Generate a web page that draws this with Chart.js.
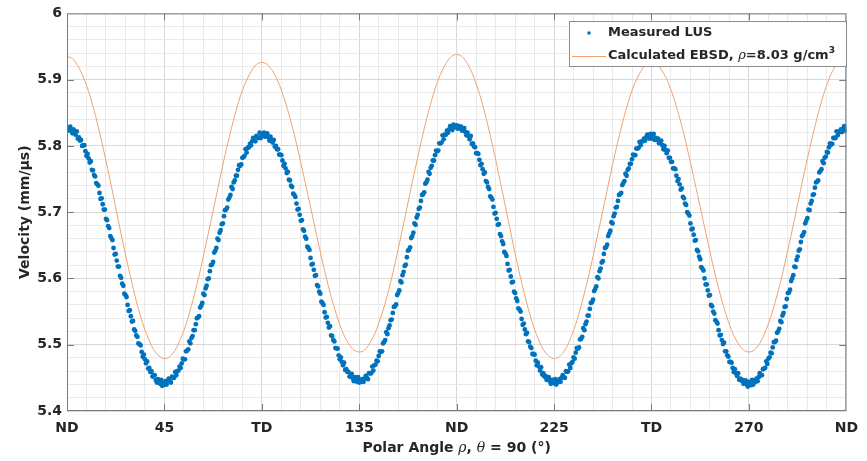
<!DOCTYPE html>
<html>
<head>
<meta charset="utf-8">
<script src="https://cdn.jsdelivr.net/npm/chart.js@4.4.1/dist/chart.umd.min.js"></script>
<style>
  html, body { margin: 0; padding: 0; background: #fff; }
  canvas { display: block; }
</style>
</head>
<body>
<canvas id="chart" width="867" height="461"></canvas>
<script>
// tick labels (every 45 deg on x, every 0.1 on y)
const xTickLabels = ['ND', '45', 'TD', '135', 'ND', '225', 'TD', '270', 'ND'];
const yTickLabels = ['5.4', '5.5', '5.6', '5.7', '5.8', '5.9', '6'];
const seriesLabels = ['Measured LUS', 'Calculated EBSD, ρ=8.03 g/cm³'];

// measured LUS velocity, one reading every 0.5 deg from 0 to 360
const measuredStep = 0.5;
const measuredVelocity = [
  5.828, 5.823, 5.827, 5.829, 5.823, 5.819, 5.825, 5.820, 5.817, 5.822,
  5.811, 5.813, 5.808, 5.809, 5.800, 5.801, 5.801, 5.792, 5.785, 5.788,
  5.781, 5.775, 5.777, 5.764, 5.763, 5.756, 5.754, 5.744, 5.742, 5.740,
  5.729, 5.720, 5.721, 5.712, 5.704, 5.704, 5.690, 5.688, 5.679, 5.676,
  5.664, 5.661, 5.658, 5.646, 5.636, 5.637, 5.627, 5.618, 5.618, 5.604,
  5.601, 5.592, 5.589, 5.577, 5.575, 5.572, 5.560, 5.551, 5.552, 5.543,
  5.535, 5.536, 5.523, 5.521, 5.514, 5.512, 5.502, 5.501, 5.499, 5.489,
  5.482, 5.485, 5.478, 5.472, 5.475, 5.464, 5.465, 5.459, 5.460, 5.452,
  5.454, 5.454, 5.447, 5.443, 5.448, 5.444, 5.441, 5.447, 5.438, 5.442,
  5.440,
  5.445, 5.440, 5.445, 5.449, 5.445, 5.443, 5.452, 5.450, 5.450, 5.459,
  5.454, 5.460, 5.461, 5.467, 5.465, 5.472, 5.479, 5.478, 5.478, 5.490,
  5.491, 5.493, 5.505, 5.502, 5.510, 5.513, 5.522, 5.522, 5.531, 5.540,
  5.541, 5.543, 5.556, 5.559, 5.563, 5.577, 5.575, 5.585, 5.589, 5.599,
  5.600, 5.611, 5.620, 5.621, 5.625, 5.639, 5.642, 5.646, 5.660, 5.658,
  5.669, 5.673, 5.682, 5.683, 5.694, 5.703, 5.704, 5.707, 5.719, 5.722,
  5.726, 5.738, 5.735, 5.745, 5.748, 5.755, 5.755, 5.764, 5.771, 5.770,
  5.772, 5.782, 5.783, 5.785, 5.795, 5.790, 5.797, 5.798, 5.803, 5.801,
  5.807, 5.812, 5.808, 5.807, 5.815, 5.813, 5.812, 5.820, 5.812, 5.816,
  5.817, 5.820, 5.814, 5.817, 5.819, 5.813, 5.808, 5.814, 5.809, 5.805,
  5.809, 5.799, 5.800, 5.795, 5.795, 5.787, 5.787, 5.786, 5.778, 5.770,
  5.773, 5.766, 5.759, 5.761, 5.749, 5.748, 5.740, 5.738, 5.728, 5.726,
  5.723, 5.713, 5.704, 5.705, 5.696, 5.687, 5.688, 5.674, 5.672, 5.663,
  5.660, 5.648, 5.646, 5.643, 5.631, 5.621, 5.622, 5.613, 5.604, 5.605,
  5.590, 5.588, 5.580, 5.577, 5.565, 5.563, 5.560, 5.549, 5.541, 5.542,
  5.533, 5.526, 5.528, 5.514, 5.513, 5.507, 5.505, 5.495, 5.495, 5.494,
  5.484, 5.478, 5.481, 5.474, 5.469, 5.473, 5.462, 5.463, 5.459, 5.459,
  5.452, 5.454, 5.456, 5.449, 5.445, 5.451, 5.447, 5.444, 5.451, 5.443,
  5.446, 5.444, 5.448, 5.444, 5.449, 5.453, 5.450, 5.448, 5.457, 5.457,
  5.457, 5.467, 5.461, 5.469, 5.470, 5.476, 5.475, 5.483, 5.490, 5.489,
  5.490, 5.502, 5.504, 5.507, 5.519, 5.516, 5.525, 5.529, 5.537, 5.538,
  5.548, 5.557, 5.558, 5.561, 5.575, 5.578, 5.582, 5.596, 5.594, 5.605,
  5.610, 5.619, 5.621, 5.632, 5.642, 5.643, 5.647, 5.661, 5.664, 5.669,
  5.683, 5.681, 5.692, 5.696, 5.705, 5.707, 5.717, 5.726, 5.727, 5.730,
  5.743, 5.745, 5.749, 5.761, 5.758, 5.767, 5.770, 5.778, 5.778, 5.786,
  5.793, 5.792, 5.793, 5.804, 5.804, 5.805, 5.816, 5.810, 5.817, 5.817,
  5.823, 5.820, 5.825, 5.830, 5.826, 5.824, 5.832, 5.830, 5.828, 5.831,
  5.826, 5.830, 5.827, 5.829, 5.823, 5.826, 5.827, 5.821, 5.816, 5.820,
  5.815, 5.810, 5.815, 5.803, 5.804, 5.799, 5.798, 5.789, 5.789, 5.788,
  5.779, 5.771, 5.773, 5.765, 5.758, 5.760, 5.747, 5.745, 5.738, 5.735,
  5.724, 5.722, 5.719, 5.708, 5.698, 5.699, 5.690, 5.681, 5.682, 5.667,
  5.664, 5.656, 5.652, 5.640, 5.638, 5.634, 5.622, 5.612, 5.613, 5.603,
  5.594, 5.595, 5.580, 5.578, 5.570, 5.566, 5.555, 5.553, 5.550, 5.539,
  5.530, 5.532, 5.523, 5.516, 5.518, 5.505, 5.504, 5.497, 5.495, 5.486,
  5.486, 5.485, 5.476, 5.469, 5.473, 5.467, 5.461, 5.466, 5.455, 5.457,
  5.452, 5.453, 5.447, 5.449, 5.451, 5.445, 5.441, 5.447, 5.444, 5.442,
  5.448, 5.440, 5.445, 5.444, 5.448, 5.444, 5.450, 5.454, 5.451, 5.450,
  5.460, 5.459, 5.460, 5.470, 5.465, 5.472, 5.474, 5.481, 5.479, 5.488,
  5.495, 5.494, 5.496, 5.508, 5.509, 5.512, 5.525, 5.522, 5.531, 5.535,
  5.544, 5.544, 5.554, 5.563, 5.564, 5.568, 5.581, 5.584, 5.588, 5.602,
  5.600, 5.611, 5.615, 5.624, 5.626, 5.637, 5.646, 5.647, 5.651, 5.664,
  5.668, 5.672, 5.685, 5.683, 5.694, 5.698, 5.707, 5.708, 5.717, 5.726,
  5.727, 5.729, 5.741, 5.744, 5.747, 5.758, 5.755, 5.764, 5.766, 5.773,
  5.773, 5.780, 5.787, 5.786, 5.786, 5.796, 5.796, 5.797, 5.806, 5.801,
  5.807, 5.807, 5.811, 5.808, 5.813, 5.817, 5.813, 5.811, 5.818, 5.815,
  5.811, 5.818, 5.809, 5.812, 5.809, 5.811, 5.804, 5.807, 5.808, 5.801,
  5.795, 5.800, 5.794, 5.789, 5.793, 5.782, 5.782, 5.776, 5.776, 5.766,
  5.766, 5.765, 5.755, 5.747, 5.750, 5.742, 5.734, 5.736, 5.723, 5.721,
  5.713, 5.711, 5.700, 5.698, 5.695, 5.683, 5.674, 5.675, 5.666, 5.657,
  5.658, 5.643, 5.641, 5.633, 5.629, 5.617, 5.615, 5.612, 5.600, 5.591,
  5.591, 5.582, 5.574, 5.575, 5.560, 5.558, 5.550, 5.547, 5.537, 5.535,
  5.532, 5.522, 5.514, 5.515, 5.507, 5.501, 5.503, 5.490, 5.490, 5.484,
  5.482, 5.474, 5.474, 5.473, 5.465, 5.459, 5.463, 5.457, 5.453, 5.457,
  5.447, 5.449, 5.446, 5.447, 5.441, 5.444, 5.446, 5.440, 5.437, 5.444,
  5.441, 5.439, 5.447, 5.440, 5.445, 5.444, 5.449, 5.445, 5.451, 5.457,
  5.454, 5.454, 5.463, 5.464, 5.465, 5.475, 5.471, 5.479, 5.481, 5.488,
  5.487, 5.496, 5.504, 5.504, 5.506, 5.518, 5.520, 5.524, 5.536, 5.534,
  5.544, 5.548, 5.557, 5.558, 5.569, 5.578, 5.579, 5.583, 5.596, 5.600,
  5.605, 5.618, 5.617, 5.628, 5.633, 5.642, 5.644, 5.655, 5.664, 5.666,
  5.670, 5.683, 5.687, 5.691, 5.704, 5.703, 5.713, 5.717, 5.726, 5.727,
  5.737, 5.745, 5.746, 5.748, 5.760, 5.762, 5.765, 5.777, 5.774, 5.782,
  5.784, 5.791, 5.790, 5.798, 5.804, 5.802, 5.803, 5.812, 5.812, 5.812,
  5.822, 5.816, 5.821, 5.821, 5.825, 5.821, 5.826, 5.830, 5.825, 5.822
];

// calculated EBSD velocity, every 2.5 deg from 0 to 360
const calculatedStep = 2.5;
const calculatedVelocity = [
  5.935, 5.932, 5.921, 5.904, 5.882, 5.854, 5.821, 5.785, 5.747, 5.707,
  5.667, 5.629, 5.593, 5.560, 5.532, 5.510, 5.493, 5.483, 5.479,
  5.482, 5.492, 5.509, 5.531, 5.559, 5.591, 5.626, 5.664, 5.702, 5.741,
  5.779, 5.814, 5.846, 5.874, 5.896, 5.912, 5.923, 5.926,
  5.923, 5.913, 5.897, 5.875, 5.848, 5.817, 5.782, 5.745, 5.708, 5.670,
  5.633, 5.598, 5.567, 5.540, 5.518, 5.502, 5.492, 5.489,
  5.492, 5.503, 5.519, 5.542, 5.569, 5.601, 5.637, 5.675, 5.714, 5.753,
  5.790, 5.826, 5.858, 5.886, 5.908, 5.924, 5.935, 5.938,
  5.935, 5.924, 5.907, 5.884, 5.856, 5.823, 5.787, 5.748, 5.709, 5.669,
  5.630, 5.594, 5.561, 5.533, 5.510, 5.493, 5.483, 5.479,
  5.482, 5.492, 5.509, 5.531, 5.559, 5.591, 5.626, 5.664, 5.702, 5.741,
  5.779, 5.814, 5.846, 5.874, 5.896, 5.912, 5.923, 5.926,
  5.923, 5.913, 5.897, 5.875, 5.848, 5.817, 5.782, 5.745, 5.708, 5.670,
  5.633, 5.598, 5.567, 5.540, 5.518, 5.502, 5.492, 5.489,
  5.492, 5.502, 5.519, 5.541, 5.569, 5.600, 5.636, 5.673, 5.712, 5.751,
  5.788, 5.823, 5.855, 5.883, 5.905, 5.921, 5.931, 5.935
];

const FAMILY = '"DejaVu Sans", sans-serif';
const SERIF = '"DejaVu Serif", serif';
const INK = '#262626';
const BLUE = '#0072BD';
const ORANGE = '#F0A270';
const MAJOR = '#d8d8d8';
const MINOR = '#eaeaea';

// grid positions: minor every 9 deg / 0.02, every 5th is a major one
const xGrid = Array.from({ length: 41 }, (_, i) => i * 9);
const yGrid = Array.from({ length: 31 }, (_, i) => +(5.4 + i * 0.02).toFixed(2));

function richText(ctx, parts, x, y) {
  let total = 0;
  parts.forEach(p => { ctx.font = p.font; p.w = ctx.measureText(p.text).width; total += p.w; });
  let cx = x - total / 2;
  parts.forEach(p => {
    ctx.font = p.font;
    ctx.fillText(p.text, cx, y + (p.dy || 0));
    cx += p.w;
  });
}

const bold14 = 'bold 14px ' + FAMILY;
const ital14 = 'italic 14px ' + SERIF;

const decor = {
  id: 'decor',
  afterDraw(chart) {
    const { ctx, chartArea: a, scales: { x, y } } = chart;
    ctx.save();

    // axes box and inward ticks
    ctx.strokeStyle = '#7a7a7a';
    ctx.lineWidth = 1;
    ctx.strokeRect(a.left + 0.5, a.top + 0.5, a.right - a.left - 1, a.bottom - a.top - 1);
    ctx.beginPath();
    x.ticks.forEach((t, i) => {
      if (i % 5 || i === 0 || i === x.ticks.length - 1) return;
      const px = Math.round(x.getPixelForValue(t.value)) + 0.5;
      ctx.moveTo(px, a.bottom); ctx.lineTo(px, a.bottom - 7);
      ctx.moveTo(px, a.top); ctx.lineTo(px, a.top + 7);
    });
    y.ticks.forEach((t, i) => {
      if (i % 5 || i === 0 || i === y.ticks.length - 1) return;
      const py = Math.round(y.getPixelForValue(t.value)) + 0.5;
      ctx.moveTo(a.left, py); ctx.lineTo(a.left + 7, py);
      ctx.moveTo(a.right, py); ctx.lineTo(a.right - 7, py);
    });
    ctx.stroke();

    // axis titles
    ctx.fillStyle = INK;
    ctx.textBaseline = 'middle';
    ctx.textAlign = 'left';
    richText(ctx, [
      { text: 'Polar Angle ', font: bold14 },
      { text: 'ρ', font: ital14 },
      { text: ', ', font: bold14 },
      { text: 'θ', font: ital14 },
      { text: ' = 90 (°)', font: bold14 }
    ], (a.left + a.right) / 2, 448);

    ctx.save();
    ctx.translate(25, (a.top + a.bottom) / 2);
    ctx.rotate(-Math.PI / 2);
    richText(ctx, [{ text: 'Velocity (mm/μs)', font: bold14 }], 0, 0);
    ctx.restore();

    // legend
    const lx = 569.5, ly = 21.5, lw = 277, lh = 45;
    ctx.fillStyle = '#fff';
    ctx.fillRect(lx, ly, lw, lh);
    ctx.strokeStyle = '#8c8c8c';
    ctx.strokeRect(lx, ly, lw, lh);

    ctx.fillStyle = BLUE;
    ctx.beginPath();
    ctx.arc(589, 33, 1.8, 0, Math.PI * 2);
    ctx.fill();

    ctx.strokeStyle = ORANGE;
    ctx.beginPath();
    ctx.moveTo(572, 56.5); ctx.lineTo(606, 56.5);
    ctx.stroke();

    const bold13 = 'bold 13px ' + FAMILY;
    ctx.fillStyle = INK;
    ctx.font = bold13;
    ctx.fillText(seriesLabels[0], 608, 33);
    let cx = 608;
    [
      { text: 'Calculated EBSD, ', font: bold13 },
      { text: 'ρ', font: 'italic 13px ' + SERIF },
      { text: '=8.03 g/cm', font: bold13 },
      { text: '3', font: 'bold 9px ' + FAMILY, dy: -5 }
    ].forEach(p => {
      ctx.font = p.font;
      ctx.fillText(p.text, cx, 56 + (p.dy || 0));
      cx += ctx.measureText(p.text).width;
    });

    ctx.restore();
  }
};

new Chart(document.getElementById('chart'), {
  type: 'scatter',
  data: {
    datasets: [
      {
        label: seriesLabels[0],
        data: measuredVelocity.map((v, i) => ({ x: i * measuredStep, y: v })),
        backgroundColor: BLUE,
        borderWidth: 0,
        pointRadius: 2.4,
        order: 2
      },
      {
        label: seriesLabels[1],
        type: 'line',
        data: calculatedVelocity.map((v, i) => ({ x: i * calculatedStep, y: v })),
        borderColor: ORANGE,
        borderWidth: 1,
        pointRadius: 0,
        tension: 0.3,
        fill: false,
        order: 1
      }
    ]
  },
  options: {
    responsive: false,
    animation: false,
    devicePixelRatio: 1,
    layout: { padding: { top: 10, right: 20, left: 0, bottom: 0 } },
    plugins: { legend: { display: false }, tooltip: { enabled: false } },
    scales: {
      x: {
        type: 'linear', min: 0, max: 360,
        afterBuildTicks: s => { s.ticks = xGrid.map(v => ({ value: v })); },
        afterFit: s => { s.height = 50; },
        grid: { color: c => (c.index % 5 === 0 ? MAJOR : MINOR), drawTicks: false },
        border: { display: false },
        ticks: {
          autoSkip: false, maxRotation: 0, padding: 9, color: INK,
          font: { family: FAMILY, size: 14, weight: 'bold' },
          callback: (v, i) => (i % 5 === 0 ? xTickLabels[i / 5] : '')
        }
      },
      y: {
        type: 'linear', min: 5.4, max: 6.0,
        afterBuildTicks: s => { s.ticks = yGrid.map(v => ({ value: v })); },
        afterFit: s => { s.width = 67; },
        grid: { color: c => (c.index % 5 === 0 ? MAJOR : MINOR), drawTicks: false },
        border: { display: false },
        ticks: {
          autoSkip: false, padding: 5, color: INK,
          font: { family: FAMILY, size: 14, weight: 'bold' },
          callback: (v, i) => (i % 5 === 0 ? yTickLabels[i / 5] : '')
        }
      }
    }
  },
  plugins: [decor]
});
</script>
</body>
</html>
